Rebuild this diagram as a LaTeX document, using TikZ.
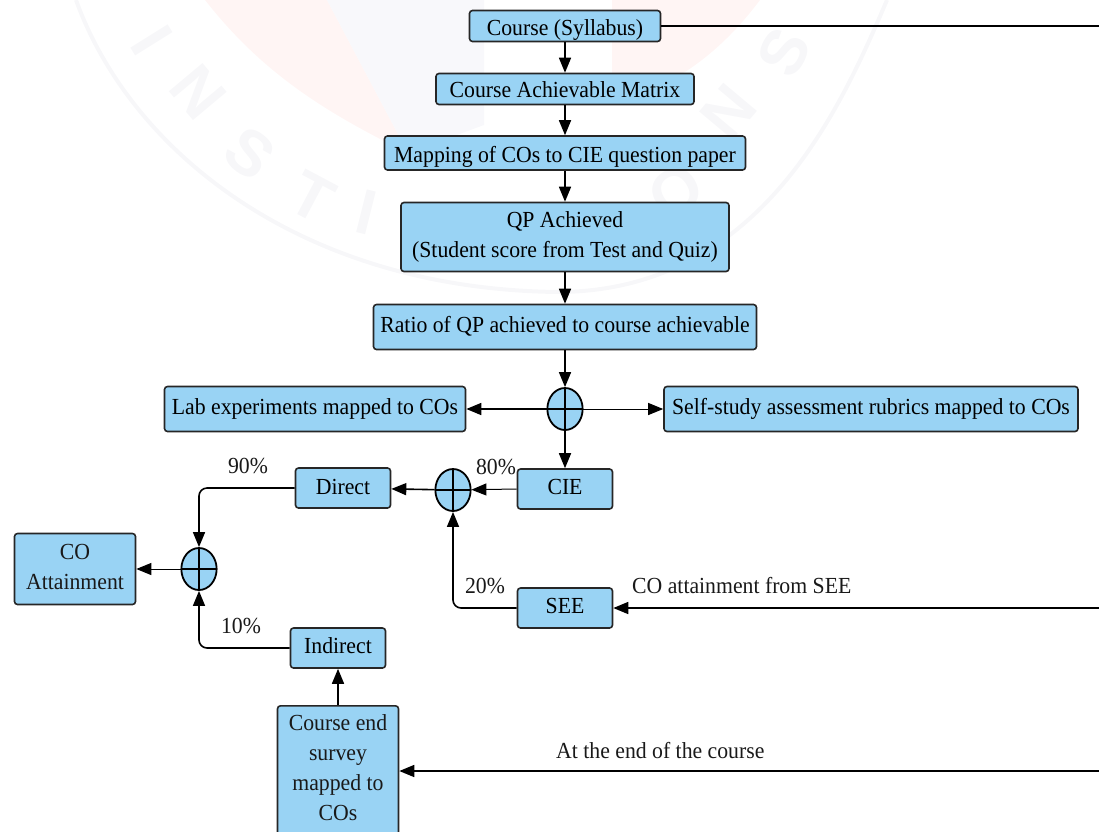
\documentclass[tikz,border=0pt]{standalone}
\usepackage{fontspec}
\setmainfont[FakeStretch=0.945]{Liberation Serif}
\newfontfamily\wmfont{Liberation Sans}
\usetikzlibrary{arrows.meta,calc}
\definecolor{boxblue}{HTML}{99D3F4}
\definecolor{wmred}{HTML}{FFF5F4}
\definecolor{wmgray}{HTML}{F8F8FB}
\definecolor{wmletter}{HTML}{F7F7F9}
% #1 = distance of the baseline below the centre of the box
\newcommand{\bl}[2]{\raisebox{-#1pt}[0pt][0pt]{#2}}
\tikzset{
  x=1pt,y=-1pt,
  bx/.style={draw=black!85,line width=1.6pt,fill=boxblue,rounded corners=3pt,align=center,inner sep=0pt,font=\fontsize{23}{30}\selectfont},
  lbl/.style={inner sep=0pt,font=\fontsize{23}{30}\selectfont,text=black!90},
  arr/.style={line width=1.6pt,-{Triangle[length=15pt,width=12pt]}},
  pl/.style={line width=1.6pt},
  wm/.style={font=\wmfont\bfseries\fontsize{64}{64}\selectfont,text=wmletter,inner sep=0pt},
  ellipse box/.style={shape=circle,xscale=0.84},
}
\newcommand{\sumnode}[2]{%
  \node[draw=black,line width=1.8pt,fill=boxblue,ellipse box,minimum width=35pt,minimum height=42pt,inner sep=0pt] (#1) at #2 {};
  \draw[line width=1.4pt] (#1.north)--(#1.south) (#1.west)--(#1.east);}
\begin{document}
\begin{tikzpicture}
\useasboundingbox (0,0) rectangle (1099,831);
% faint watermark
\fill[wmred] (205,0) -- (327,0) -- (408,153) .. controls (320,110) and (260,70) .. cycle;
\fill[wmgray] (327,0) -- (484,0) -- (484,125) -- (408,153) -- cycle;
\fill[wmred] (612,0) -- (760,0) .. controls (730,40) and (680,90) .. (612,100) -- cycle;
\draw[line width=4pt,wmletter] (76,0) .. controls (130,150) and (300,290) .. (560,292) .. controls (760,290) and (840,110) .. (887,0);
\node[wm,rotate=-58] (w1) at (152,40) {I};
\node[wm,rotate=-50] (w2) at (198,92) {N};
\node[wm,rotate=-38] (w3) at (250,153) {S};
\node[wm,rotate=-28] (w4) at (312,197) {T};
\node[wm,rotate=-14] (w5) at (366,212) {I};
\node[wm,rotate=32] (w6) at (676,192) {O};
\node[wm,rotate=50] (w7) at (728,112) {N};
\node[wm,rotate=62] (w8) at (784,52) {S};
% boxes
\node[bx,minimum width=191pt,minimum height=31pt] (syl) at (565,26) {\bl{9}{Course (Syllabus)}};
\node[bx,minimum width=258pt,minimum height=31pt] (mat) at (565,89) {\bl{8.5}{Course Achievable Matrix}};
\node[bx,minimum width=361pt,minimum height=34pt] (map) at (565,153) {\bl{9}{Mapping of COs to CIE question paper}};
\node[bx,minimum width=328pt,minimum height=69pt] (qp) at (565,237) {QP Achieved\\(Student score from Test and Quiz)};
\node[bx,minimum width=383pt,minimum height=45pt] (ratio) at (565,327) {\bl{5}{Ratio of QP achieved to course achievable}};
\node[bx,minimum width=301pt,minimum height=45pt] (lab) at (315,409) {\bl{5}{Lab experiments mapped to COs}};
\node[bx,minimum width=414pt,minimum height=45pt] (self) at (871,409) {\bl{5}{Self-study assessment rubrics mapped to COs}};
\node[bx,minimum width=95pt,minimum height=40pt] (cie) at (565,489) {\bl{5}{CIE}};
\node[bx,minimum width=95pt,minimum height=40pt] (direct) at (343,488) {\bl{6}{Direct}};
\node[bx,minimum width=95pt,minimum height=40pt] (see) at (565,608) {\bl{5}{SEE}};
\node[bx,minimum width=95pt,minimum height=40pt] (ind) at (338,648) {\bl{5}{Indirect}};
\node[bx,minimum width=121pt,minimum height=71pt] (att) at (75,569) {};
\node[lbl,align=center] (atttxt) at (75,567) {CO\\Attainment};
\node[bx,minimum width=121pt,minimum height=132pt,anchor=north] (survey) at (338,705) {};
\node[lbl,align=center] (surveytxt) at (338,768) {Course end\\survey\\mapped to\\COs};
% summing junctions
\sumnode{s1}{(565,409)}
\sumnode{s2}{(453,490)}
\sumnode{s3}{(199,569)}
% free ends at the right margin
\coordinate (r1) at (1099,26);
\coordinate (r2) at (1099,608);
\coordinate (r3) at (1099,771);
% connectors
\draw[pl] (syl.east)--(r1);
\draw[arr] (syl)--(mat);
\draw[arr] (mat)--(map);
\draw[arr] (map)--(qp);
\draw[arr] (qp)--(ratio);
\draw[arr] (ratio)--(s1);
\draw[arr] (s1)--(lab);
\draw[arr,line width=1pt] (s1)--(self);
\draw[arr] (s1)--(cie);
\draw[arr,line width=1pt] (cie.west)--(s2);
\draw[arr] (s2)--(direct);
\draw[arr,rounded corners=8pt] (see.west)-|(s2.south);
\draw[arr,rounded corners=8pt] (direct.west)-|(s3.north);
\draw[arr,rounded corners=8pt] (ind.west)-|(s3.south);
\draw[arr,line width=1pt] (s3)--(att);
\draw[arr] (survey)--(ind);
\draw[arr] (r2)--(see);
\draw[arr] (r3)--(survey.east|-r3);
% labels
\node[lbl] (l90) at (248,466) {90\%};
\node[lbl] (l80) at (496,467) {80\%};
\node[lbl] (l20) at (485,586) {20\%};
\node[lbl] (l10) at (241,626) {10\%};
\node[lbl,anchor=west] (lsee) at (632,586) {CO attainment from SEE};
\node[lbl,anchor=west] (lend) at (556,750) {At the end of the course};
\end{tikzpicture}
\end{document}
